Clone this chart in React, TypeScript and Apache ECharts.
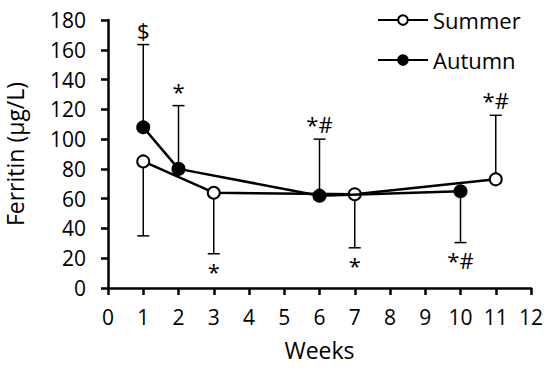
import React, { useEffect, useRef } from "react";
import * as echarts from "echarts";

const summerWeeks = [1, 3, 7, 11];
const summerValues = [85, 64, 63, 73];
const summerErrEnd = [35, 23, 27, 116];
const summerMarks = ["", "*", "*", "*#"];

const autumnWeeks = [1, 2, 6, 10];
const autumnValues = [108, 80, 62, 65];
const autumnErrEnd = [163.5, 122.5, 100, 30.5];
const autumnMarks = ["$", "*", "*#", "*#"];

const FONT = "'Open Sans', sans-serif";

function errSeries(weeks: number[], values: number[], ends: number[], marks: string[]) {
  return {
    type: "custom",
    silent: true,
    z: 1,
    data: weeks.map((w, i) => [w, values[i], ends[i], i]),
    renderItem: (params: any, api: any) => {
      const x = api.value(0);
      const v = api.value(1);
      const e = api.value(2);
      const mark = marks[params.dataIndex] || "";
      const p0 = api.coord([x, v]);
      const p1 = api.coord([x, e]);
      const up = e > v;
      const half = 6;
      const children: any[] = [
        { type: "line", shape: { x1: p0[0], y1: p0[1], x2: p1[0], y2: p1[1] }, style: { stroke: "#000", lineWidth: 1.5 } },
        { type: "line", shape: { x1: p1[0] - half, y1: p1[1], x2: p1[0] + half, y2: p1[1] }, style: { stroke: "#000", lineWidth: 1.5 } },
      ];
      if (mark) {
        children.push({
          type: "text",
          style: {
            text: mark,
            x: p1[0],
            y: up ? p1[1] - 4 : p1[1] + 6,
            align: "center",
            verticalAlign: up ? "bottom" : "top",
            font: `22px ${FONT}`,
            fill: "#000",
          },
        });
      }
      return { type: "group", children };
    },
  };
}

export default function App() {
  const ref = useRef<HTMLDivElement>(null);
  useEffect(() => {
    if (!ref.current) return;
    const chart = echarts.init(ref.current, null, { renderer: "svg" });
    chart.setOption({
      animation: false,
      backgroundColor: "#fff",
      textStyle: { fontFamily: FONT },
      grid: { left: 108, right: 19, top: 20, bottom: 86, containLabel: false, outerBoundsMode: "none" },
      legend: {
        orient: "vertical",
        left: 372,
        top: 4,
        itemWidth: 50,
        itemHeight: 12,
        itemGap: 18,
        textStyle: { fontSize: 22, color: "#000", fontFamily: FONT },
        data: ["Summer", "Autumn"],
      },
      xAxis: {
        type: "value",
        min: 0,
        max: 12,
        interval: 1,
        name: "Weeks",
        nameLocation: "middle",
        nameGap: 50,
        nameTextStyle: { fontSize: 23, color: "#000" },
        axisLine: { lineStyle: { color: "#000", width: 2.5 } },
        axisTick: { show: true, length: 7, lineStyle: { color: "#000", width: 2.5 } },
        axisLabel: { fontSize: 21, color: "#000", margin: 18 },
        splitLine: { show: false },
      },
      yAxis: {
        type: "value",
        min: 0,
        max: 180,
        interval: 20,
        name: "Ferritin (µg/L)",
        nameLocation: "middle",
        nameGap: 82,
        nameTextStyle: { fontSize: 23, color: "#000" },
        axisLine: { show: true, lineStyle: { color: "#000", width: 2.5 } },
        axisTick: { show: true, length: 7, lineStyle: { color: "#000", width: 2.5 } },
        axisLabel: { fontSize: 21, color: "#000", margin: 22 },
        splitLine: { show: false },
      },
      series: [
        errSeries(summerWeeks, summerValues, summerErrEnd, summerMarks),
        errSeries(autumnWeeks, autumnValues, autumnErrEnd, autumnMarks),
        {
          name: "Summer",
          type: "line",
          z: 3,
          data: summerWeeks.map((w, i) => [w, summerValues[i]]),
          symbol: "circle",
          symbolSize: 12,
          lineStyle: { color: "#000", width: 2.5 },
          itemStyle: { color: "#fff", borderColor: "#000", borderWidth: 2 },
        },
        {
          name: "Autumn",
          type: "line",
          z: 4,
          data: autumnWeeks.map((w, i) => [w, autumnValues[i]]),
          symbol: "circle",
          symbolSize: 12,
          lineStyle: { color: "#000", width: 2.5 },
          itemStyle: { color: "#000", borderColor: "#000", borderWidth: 2 },
        },
      ],
    });
    return () => chart.dispose();
  }, []);
  return <div ref={ref} style={{ width: 550, height: 374, position: "absolute", left: 0, top: 0 }} />;
}
